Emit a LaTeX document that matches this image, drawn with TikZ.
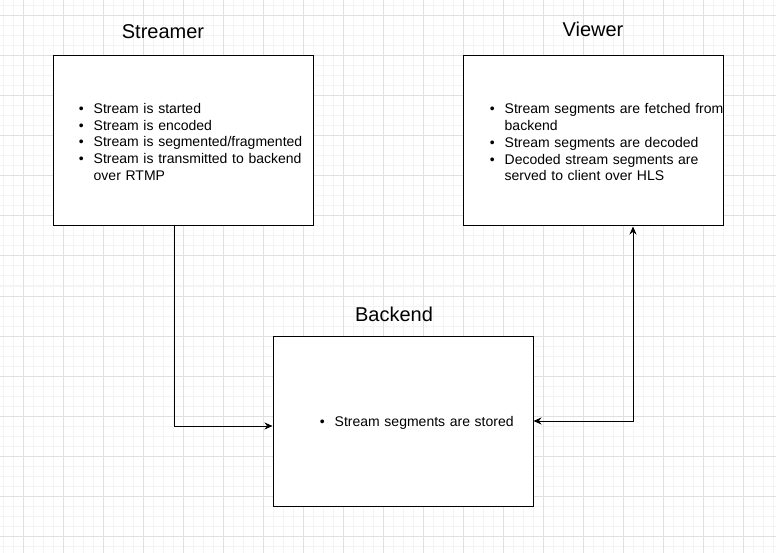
\documentclass[tikz,border=0pt]{standalone}
\usepackage{fontspec}
\setmainfont{Liberation Sans}
\usepackage{enumitem}
\usepackage{xcolor}
\usetikzlibrary{arrows.meta,positioning,calc}

\definecolor{gridminor}{HTML}{F4F4F4}
\definecolor{gridmajor}{HTML}{E0E0E0}
\setlist[itemize]{label=\textbullet,leftmargin=15pt,labelsep=10pt,itemsep=0pt,topsep=0pt,parsep=0pt,partopsep=0pt}

\begin{document}
\begin{tikzpicture}[x=1pt,y=-1pt,>={Stealth[length=8pt,width=7pt]}]
	\tikzstyle{box}=[draw,line width=1pt,minimum width=260pt,minimum height=170pt,inner sep=0pt]
	\tikzstyle{title}=[font=\fontsize{20}{24}\selectfont,inner sep=0pt]
	\tikzstyle{items}=[anchor=west,text width=240pt,align=left,inner sep=0pt,font=\fontsize{14}{16.8}\selectfont]
	\tikzstyle{link}=[line width=0.8pt]
	
	\useasboundingbox (0,0) rectangle (776,553);
	% background grid
	\foreach \gx in {3,13,...,773} \draw[gridminor,line width=1pt] (\gx,0) -- (\gx,553);
	\foreach \gy in {6,16,...,546} \draw[gridminor,line width=1pt] (0,\gy) -- (776,\gy);
	\foreach \gx in {23,63,...,743} \draw[gridmajor,line width=1pt] (\gx,0) -- (\gx,553);
	\foreach \gy in {16,56,...,536} \draw[gridmajor,line width=1pt] (0,\gy) -- (776,\gy);
	
	\node[box,fill=white](streamer) at (183,141){};
	\node[box,fill=white](viewer) at (593,141){};
	\node[box,fill=white](backend) at (403,421){};
	
	\node[title](streamer-title)[above=17pt of streamer,xshift=-20pt]{Streamer};
	\node[title](viewer-title)[above=19pt of viewer]{Viewer};
	\node[title](backend-title)[above=14pt of backend,xshift=-9pt]{Backend};
	
	\node[items](streamer-items) at ([xshift=26pt,yshift=2.5pt]streamer.west){%
		\begin{itemize}
			\item Stream is started
			\item Stream is encoded
			\item Stream is segmented/fragmented
			\item Stream is transmitted to backend\newline over RTMP
		\end{itemize}};
	\node[items](viewer-items) at ([xshift=27pt,yshift=2pt]viewer.west){%
		\begin{itemize}
			\item Stream segments are fetched from\newline backend
			\item Stream segments are decoded
			\item Decoded stream segments are\newline served to client over HLS
		\end{itemize}};
	\node[items](backend-items) at ([xshift=47pt,yshift=1pt]backend.west){%
		\begin{itemize}
			\item Stream segments are stored
		\end{itemize}};
	
	\draw[link,->] ([xshift=-9pt]streamer.south) |- ([yshift=-5pt]backend.west);
	\draw[link,<->] (backend.east) -| ([xshift=40pt]viewer.south);
\end{tikzpicture}
\end{document}
